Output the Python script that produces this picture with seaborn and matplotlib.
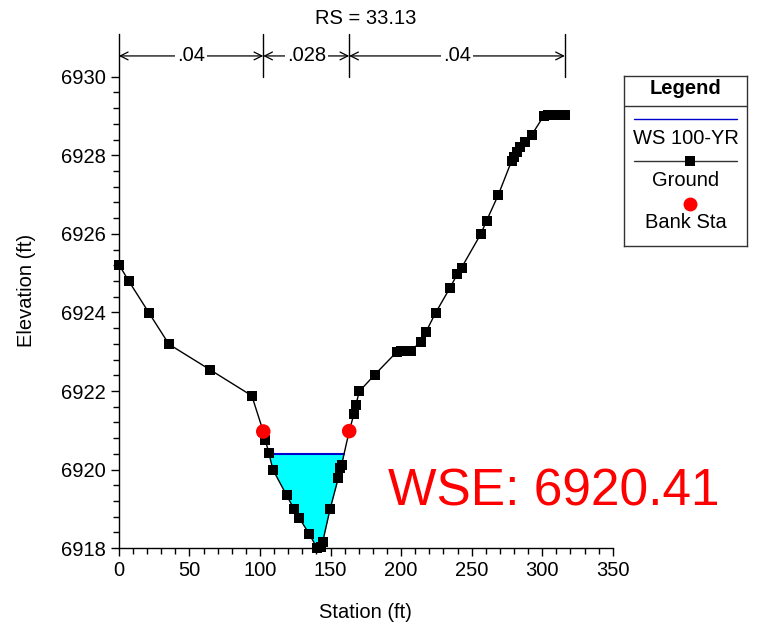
import numpy as np
import pandas as pd
import matplotlib
matplotlib.use("Agg")
import matplotlib.pyplot as plt
from matplotlib.ticker import FixedLocator
import seaborn as sns

# Cross section data
station = [0, 7, 21.3, 35.5, 64.7, 94.2, 102.3, 103.7, 106.3, 109.1, 118.8, 124.2,
           127.6, 134.9, 140.5, 143.5, 144.4, 149.6, 155.5, 156.7, 157.8, 163.2,
           166.6, 168.0, 170.3, 181.4, 197, 200, 203, 207, 213.8, 217.5, 224.4,
           234.5, 239.7, 242.8, 256.5, 260.6, 268.8, 278.3, 280, 281.8, 284,
           287.7, 292.5, 301, 304, 308, 312, 316]
elevation = [6925.22, 6924.80, 6923.99, 6923.19, 6922.54, 6921.88, 6920.97, 6920.76,
             6920.42, 6920.00, 6919.35, 6918.99, 6918.78, 6918.36, 6918.00, 6918.02,
             6918.16, 6918.99, 6919.79, 6920.03, 6920.12, 6920.98, 6921.42, 6921.65,
             6921.99, 6922.42, 6923.00, 6923.02, 6923.02, 6923.03, 6923.25, 6923.50,
             6923.99, 6924.62, 6924.97, 6925.14, 6926.00, 6926.34, 6926.99, 6927.86,
             6927.95, 6928.08, 6928.20, 6928.33, 6928.52, 6929.00, 6929.02, 6929.03,
             6929.03, 6929.03]
bank_station = [102.3, 163.2]
bank_elev = [6920.97, 6920.98]
wse = 6920.41
n_breaks = [0, 102.3, 163.2, 316]
n_values = [".04", ".028", ".04"]
section = "RS = 33.13"

ground = pd.DataFrame({"Station": station, "Elevation": elevation})
banks = pd.DataFrame({"Station": bank_station, "Elevation": bank_elev})

sns.set_style("ticks")
plt.rcParams["font.family"] = ["Liberation Sans", "DejaVu Sans"]
plt.rcParams["text.color"] = "black"
plt.rcParams["axes.labelcolor"] = "black"
plt.rcParams["xtick.color"] = "black"
plt.rcParams["ytick.color"] = "black"

FS = 14.5

fig = plt.figure(figsize=(7.67, 6.33), dpi=100)
ax = fig.add_axes([0.155, 0.134, 0.644, 0.813])

st = np.array(station)
el = np.array(elevation)

# water fill in the channel
ax.fill_between(st, el, wse, where=el <= wse, interpolate=True, color="cyan", lw=0, zorder=1)
below = np.where(el <= wse)[0]
i0, i1 = below[0], below[-1]
x_left = np.interp(wse, [el[i0], el[i0 - 1]], [st[i0], st[i0 - 1]])
x_right = np.interp(wse, [el[i1], el[i1 + 1]], [st[i1], st[i1 + 1]])
ax.plot([x_left, x_right], [wse, wse], color="#0000cc", lw=1.5, zorder=2)

sns.lineplot(data=ground, x="Station", y="Elevation", sort=False, color="black", lw=1,
             marker="s", markersize=6.5, markeredgewidth=0, ax=ax, zorder=3, clip_on=False)
sns.scatterplot(data=banks, x="Station", y="Elevation", color="red", s=110,
                edgecolor="none", ax=ax, zorder=4, clip_on=False)

ax.set_xlim(0, 350)
ax.set_ylim(6918, 6931.1)
ax.set_xticks(range(0, 351, 50))
ax.set_yticks(range(6918, 6931, 2))
ax.xaxis.set_minor_locator(FixedLocator(np.arange(0, 351, 10)))
ax.yaxis.set_minor_locator(FixedLocator(np.arange(6918, 6930.01, 0.4)))
ax.tick_params(which="major", length=6, width=1, labelsize=FS, color="black")
ax.tick_params(which="minor", length=4, width=1, color="black")
for s in ["left", "bottom"]:
    ax.spines[s].set_color("black")
    ax.spines[s].set_linewidth(1)
sns.despine(ax=ax)
ax.set_xlabel("Station (ft)", fontsize=FS, labelpad=16)
ax.set_ylabel("Elevation (ft)", fontsize=FS, labelpad=18)
ax.set_title(section, fontsize=FS, pad=7)

# manning's n annotations
y_arrow = 6930.53
for xb in n_breaks[1:]:
    ax.plot([xb, xb], [6930.0, 6931.1], color="black", lw=1, clip_on=False)
for k, txt in enumerate(n_values):
    a, b = n_breaks[k], n_breaks[k + 1]
    ax.annotate("", xy=(a, y_arrow), xytext=(b, y_arrow),
                arrowprops=dict(arrowstyle="<->", color="black", lw=0.9,
                                shrinkA=0, shrinkB=0, mutation_scale=14))
    ax.text((a + b) / 2, y_arrow, txt, ha="center", va="center", fontsize=FS,
            bbox=dict(facecolor="white", edgecolor="none", pad=1.5))

ax.text(190.6, 6919.09, "WSE: " + f"{wse:.2f}", color="red", fontsize=37,
        ha="left", va="baseline", clip_on=False)

# legend box drawn in pixel space
lg = fig.add_axes([624 / 767, 1 - 246 / 633, 123 / 767, 170 / 633])
lg.set_xlim(624, 747)
lg.set_ylim(246, 76)
lg.set_xticks([])
lg.set_yticks([])
for s in lg.spines.values():
    s.set_color("#333333")
    s.set_linewidth(1)
lg.text(685.5, 89, "Legend", ha="center", va="center", fontsize=FS, fontweight="bold")
lg.plot([624, 747], [106, 106], color="#333333", lw=1)
lg.plot([634, 737], [119, 119], color="#0000cc", lw=1)
lg.text(685.5, 139, "WS 100-YR", ha="center", va="center", fontsize=FS)
lg.plot([634, 737], [161, 161], color="#333333", lw=1)
lg.plot([690], [161], marker="s", color="black", markersize=6.5, markeredgewidth=0)
lg.text(685.5, 181, "Ground", ha="center", va="center", fontsize=FS)
lg.plot([690], [204], marker="o", color="red", markersize=10, markeredgewidth=0)
lg.text(685.5, 222, "Bank Sta", ha="center", va="center", fontsize=FS)

fig.savefig("out.png", dpi=100)
plt.close(fig)
